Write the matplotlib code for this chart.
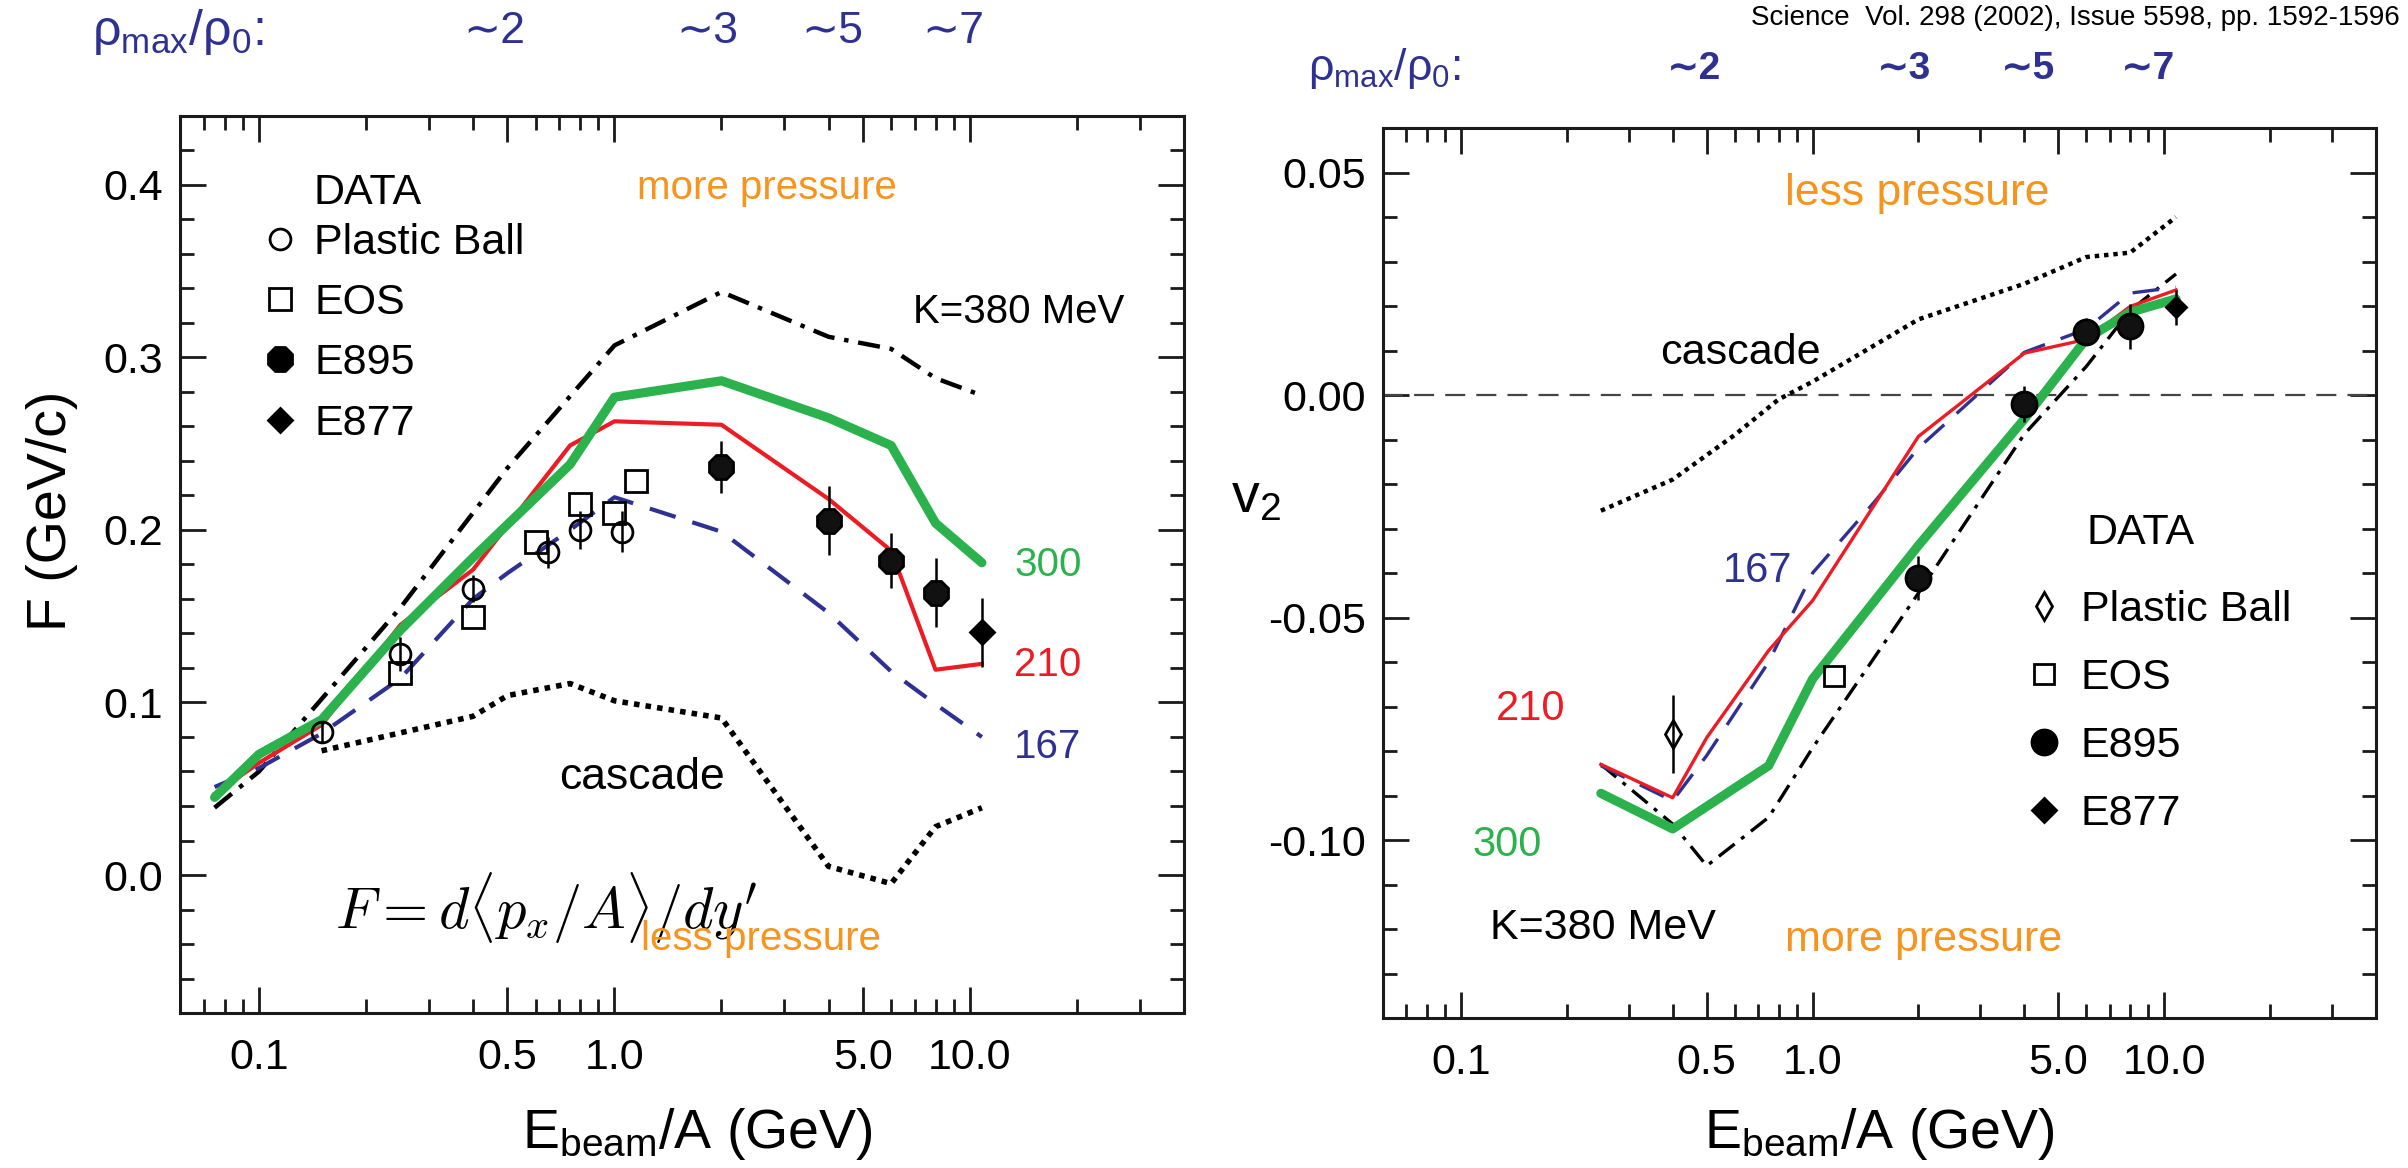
import numpy as np
import matplotlib
matplotlib.use("Agg")
import matplotlib.pyplot as plt
import matplotlib.transforms as mtransforms
from matplotlib.lines import Line2D
from matplotlib.ticker import FixedLocator, FixedFormatter, NullFormatter, MultipleLocator

plt.rcParams['font.family'] = ['Liberation Sans', 'DejaVu Sans']
plt.rcParams['mathtext.fontset'] = 'custom'
plt.rcParams['mathtext.rm'] = 'Liberation Sans'
plt.rcParams['mathtext.it'] = 'Liberation Sans:italic'
plt.rcParams['mathtext.bf'] = 'Liberation Sans:bold'

GREEN = '#2bb24c'
RED = '#ed1c24'
BLUE = '#2e3192'
ORANGE = '#f7941d'

## ---- left panel: directed flow F ----
e_f300 = [0.075, 0.1, 0.15, 0.25, 0.4, 0.75, 1.0, 2.0, 4.0, 6.0, 8.0, 10.8]
f_300 = [0.045, 0.07, 0.09, 0.142, 0.184, 0.238, 0.277, 0.2865, 0.265, 0.249, 0.204, 0.181]
e_f210 = [0.075, 0.1, 0.15, 0.25, 0.4, 0.75, 1.0, 2.0, 4.0, 6.0, 8.0, 10.8]
f_210 = [0.047, 0.065, 0.087, 0.145, 0.177, 0.249, 0.263, 0.261, 0.218, 0.188, 0.119, 0.1224]
e_f167 = [0.075, 0.1, 0.15, 0.25, 0.4, 0.5, 0.75, 1.0, 2.0, 4.0, 6.0, 8.0, 10.8]
f_167 = [0.051, 0.062, 0.082, 0.114, 0.16, 0.175, 0.2, 0.219, 0.199, 0.152, 0.118, 0.099, 0.08]
e_f380 = [0.075, 0.1, 0.15, 0.25, 0.5, 1.0, 2.0, 4.0, 6.0, 8.0, 10.8]
f_380 = [0.039, 0.06, 0.102, 0.155, 0.236, 0.307, 0.338, 0.312, 0.305, 0.288, 0.278]
e_fcasc = [0.15, 0.4, 0.5, 0.75, 1.0, 2.0, 4.0, 6.0, 8.0, 10.8]
f_casc = [0.072, 0.092, 0.104, 0.111, 0.101, 0.091, 0.005, -0.005, 0.028, 0.039]

# data points
e_pb = [0.15, 0.25, 0.4, 0.65, 0.8, 1.05]
f_pb = [0.083, 0.128, 0.166, 0.187, 0.2, 0.199]
f_pb_err = [0.006, 0.01, 0.008, 0.009, 0.011, 0.012]
e_eos = [0.25, 0.4, 0.6, 0.8, 1.0, 1.15]
f_eos = [0.117, 0.1496, 0.193, 0.215, 0.21, 0.2285]
e_e895 = [2.0, 4.0, 6.0, 8.0]
f_e895 = [0.2363, 0.2054, 0.1822, 0.1637]
f_e895_err = [0.015, 0.02, 0.016, 0.02]
e_e877 = [10.8]
f_e877 = [0.1407]
f_e877_err = [0.02]

## ---- right panel: elliptic flow v2 ----
e_v300 = [0.25, 0.4, 0.75, 1.0, 2.0, 4.0, 6.0, 8.0, 10.8]
v_300 = [-0.0895, -0.0975, -0.0833, -0.0638, -0.0338, -0.0054, 0.0126, 0.0186, 0.0216]
e_v210 = [0.25, 0.4, 0.5, 0.75, 1.0, 2.0, 4.0, 6.0, 8.0, 10.8]
v_210 = [-0.083, -0.0905, -0.077, -0.0574, -0.0462, -0.0093, 0.0094, 0.0125, 0.0199, 0.0236]
e_v167 = [0.25, 0.4, 0.5, 0.75, 1.0, 1.5, 2.0, 4.0, 6.0, 8.0, 10.8]
v_167 = [-0.0833, -0.0912, -0.081, -0.06, -0.040, -0.024, -0.0119, 0.0096, 0.0148, 0.0229, 0.0242]
e_v380 = [0.25, 0.4, 0.5, 0.75, 1.0, 2.0, 4.0, 6.0, 8.0, 10.8]
v_380 = [-0.083, -0.0964, -0.1058, -0.0949, -0.0793, -0.0445, -0.0088, 0.0064, 0.019, 0.0272]
e_vcasc = [0.25, 0.4, 0.6, 0.8, 1.0, 2.0, 4.0, 6.0, 8.0, 10.8]
v_casc = [-0.026, -0.019, -0.009, -0.001, 0.003, 0.017, 0.025, 0.031, 0.032, 0.040]

e_pb2 = [0.4]
v_pb2 = [-0.0762]
v_pb2_err = [0.0088]
e_eos2 = [1.15]
v_eos2 = [-0.0631]
e_e895_2 = [2.0, 4.0, 6.0, 8.0]
v_e895 = [-0.0411, -0.002, 0.0142, 0.0154]
v_e895_err = [0.005, 0.004, 0.003, 0.005]
e_e877_2 = [10.8]
v_e877 = [0.0197]
v_e877_err = [0.004]

# density labels along the top
rho_e = [0.46, 1.82, 4.1, 9.0]
rho_lab = ['∼2', '∼3', '∼5', '∼7']

xmaj = [0.1, 0.5, 1.0, 5.0, 10.0]
xmaj_lab = ['0.1', '0.5', '1.0', '5.0', '10.0']
xmin = [0.07, 0.08, 0.09, 0.2, 0.3, 0.4, 0.6, 0.7, 0.8, 0.9,
        2, 3, 4, 6, 7, 8, 9, 20, 30]

fig = plt.figure(figsize=(12.04, 5.84), dpi=200)
axL = fig.add_axes([0.0748, 0.1327, 0.4169, 0.768])
axR = fig.add_axes([0.5743, 0.1284, 0.4124, 0.762])


def style_axes(ax):
    ax.set_xscale('log')
    ax.set_xlim(0.06, 40)
    ax.xaxis.set_major_locator(FixedLocator(xmaj))
    ax.xaxis.set_major_formatter(FixedFormatter(xmaj_lab))
    ax.xaxis.set_minor_locator(FixedLocator(xmin))
    ax.xaxis.set_minor_formatter(NullFormatter())
    ax.tick_params(which='both', direction='in', top=True, right=True, width=1.0,
                   labelsize=15.5, color='#1a1a1a')
    ax.tick_params(which='major', length=9.5)
    ax.tick_params(which='minor', length=5)
    ax.tick_params(axis='x', pad=9)
    ax.tick_params(axis='y', pad=6)
    for s in ax.spines.values():
        s.set_linewidth(1.1)
        s.set_color('#1a1a1a')
    ax.set_xlabel(r'E$_{\mathrm{beam}}$/A (GeV)', fontsize=20)


# ---------------- left ----------------
ax = axL
style_axes(ax)
ax.set_ylim(-0.08, 0.44)
ax.yaxis.set_major_locator(FixedLocator([0.0, 0.1, 0.2, 0.3, 0.4]))
ax.yaxis.set_major_formatter(FixedFormatter(['0.0', '0.1', '0.2', '0.3', '0.4']))
ax.yaxis.set_minor_locator(MultipleLocator(0.02))

ax.plot(e_f380, f_380, color='black', lw=1.6, dashes=(5, 2.2, 1.0, 2.2))
ax.plot(e_f167, f_167, color=BLUE, lw=1.5, dashes=(6.5, 4.2))
ax.plot(e_f210, f_210, color=RED, lw=1.5)
ax.plot(e_f300, f_300, color=GREEN, lw=3.3, solid_capstyle='round')
ax.plot(e_fcasc, f_casc, color='black', lw=2.0, dashes=(1.0, 1.1))

ax.errorbar(e_pb, f_pb, yerr=f_pb_err, fmt='o', ms=7.5, mfc='none', mec='black',
            mew=1.0, ecolor='black', elinewidth=0.9, capsize=0)
ax.plot(e_eos, f_eos, 's', ms=8, mfc='none', mec='black', mew=1.0)
ax.errorbar(e_e895, f_e895, yerr=f_e895_err, fmt='8', ms=9, color='black',
            mfc='#111111', elinewidth=0.9, capsize=0)
ax.errorbar(e_e877, f_e877, yerr=f_e877_err, fmt='D', ms=6, color='black',
            elinewidth=0.9, capsize=0)

ax.set_ylabel('F (GeV/c)', fontsize=20)
ax.yaxis.set_label_coords(-0.102, 0.56)
ax.xaxis.set_label_coords(0.515, -0.104)

handlesL = [
    Line2D([], [], ls='none', marker='o', ms=7.5, mfc='none', mec='black', mew=1.0),
    Line2D([], [], ls='none', marker='s', ms=8, mfc='none', mec='black', mew=1.0),
    Line2D([], [], ls='none', marker='8', ms=9, color='black'),
    Line2D([], [], ls='none', marker='D', ms=6, color='black'),
]
ax.legend(handlesL, ['Plastic Ball', 'EOS', 'E895', 'E877'], loc='upper left',
          bbox_to_anchor=(0.065, 0.90), frameon=False, fontsize=15.5,
          handlelength=0.8, handletextpad=0.4, labelspacing=0.47, borderaxespad=0)
ax.text(0.133, 0.914, 'DATA', transform=ax.transAxes, fontsize=15.5, va='center')
ax.text(0.455, 0.92, 'more pressure', transform=ax.transAxes, fontsize=14.5,
        color=ORANGE, va='center')
ax.text(0.730, 0.781, 'K=380 MeV', transform=ax.transAxes, fontsize=14.5, va='center')
ax.text(0.831, 0.499, '300', transform=ax.transAxes, fontsize=14.5, color=GREEN, va='center')
ax.text(0.831, 0.388, '210', transform=ax.transAxes, fontsize=14.5, color=RED, va='center')
ax.text(0.831, 0.297, '167', transform=ax.transAxes, fontsize=14.5, color=BLUE, va='center')
ax.text(0.378, 0.262, 'cascade', transform=ax.transAxes, fontsize=16, va='center')
ax.text(0.154, 0.117, r"$F = d\langle p_x/A\rangle/dy'$", transform=ax.transAxes,
        fontsize=21, va='center', math_fontfamily='cm')
ax.text(0.459, 0.0825, 'less pressure', transform=ax.transAxes, fontsize=14.5,
        color=ORANGE, va='center')

# ---------------- right ----------------
ax = axR
style_axes(ax)
ax.set_ylim(-0.14, 0.06)
ax.yaxis.set_major_locator(FixedLocator([-0.10, -0.05, 0.0, 0.05]))
ax.yaxis.set_major_formatter(FixedFormatter(['-0.10', '-0.05', '0.00', '0.05']))
ax.yaxis.set_minor_locator(MultipleLocator(0.01))

ax.axhline(0.0, color='#444444', lw=0.8, dashes=(9, 5))
ax.plot(e_v380, v_380, color='black', lw=1.2, dashes=(6, 2.5, 1.2, 2.5))
ax.plot(e_v167, v_167, color=BLUE, lw=1.2, dashes=(8, 5))
ax.plot(e_v210, v_210, color=RED, lw=1.2)
ax.plot(e_v300, v_300, color=GREEN, lw=3.3, solid_capstyle='round')
ax.plot(e_vcasc, v_casc, color='black', lw=1.6, dashes=(1.0, 1.1))

ax.errorbar(e_pb2, v_pb2, yerr=v_pb2_err, fmt='d', ms=7, mfc='none', mec='black',
            mew=1.0, ecolor='black', elinewidth=0.9, capsize=0)
ax.plot(e_eos2, v_eos2, 's', ms=7.5, mfc='none', mec='black', mew=1.0)
ax.errorbar(e_e895_2, v_e895, yerr=v_e895_err, fmt='o', ms=9, color='black',
            mfc='#111111', elinewidth=0.9, capsize=0)
ax.errorbar(e_e877_2, v_e877, yerr=v_e877_err, fmt='D', ms=5, color='black',
            elinewidth=0.9, capsize=0)

ax.set_ylabel(r'v$_2$', fontsize=20, rotation=0)
ax.yaxis.set_label_coords(-0.128, 0.555)
ax.xaxis.set_label_coords(0.50, -0.099)

handlesR = [
    Line2D([], [], ls='none', marker='d', ms=7, mfc='none', mec='black', mew=1.0),
    Line2D([], [], ls='none', marker='s', ms=7.5, mfc='none', mec='black', mew=1.0),
    Line2D([], [], ls='none', marker='o', ms=9, color='black'),
    Line2D([], [], ls='none', marker='D', ms=6, color='black'),
]
ax.legend(handlesR, ['Plastic Ball', 'EOS', 'E895', 'E877'], loc='upper left',
          bbox_to_anchor=(0.631, 0.500), frameon=False, fontsize=15.5,
          handlelength=0.8, handletextpad=0.45, labelspacing=0.65, borderaxespad=0)
ax.text(0.708, 0.545, 'DATA', transform=ax.transAxes, fontsize=15.5, va='center')
ax.text(0.405, 0.926, 'less pressure', transform=ax.transAxes, fontsize=16,
        color=ORANGE, va='center')
ax.text(0.279, 0.747, 'cascade', transform=ax.transAxes, fontsize=15.5, va='center')
ax.text(0.342, 0.502, '167', transform=ax.transAxes, fontsize=15, color=BLUE, va='center')
ax.text(0.114, 0.347, '210', transform=ax.transAxes, fontsize=15, color=RED, va='center')
ax.text(0.090, 0.194, '300', transform=ax.transAxes, fontsize=15, color=GREEN, va='center')
ax.text(0.108, 0.101, 'K=380 MeV', transform=ax.transAxes, fontsize=15.5, va='center')
ax.text(0.405, 0.088, 'more pressure', transform=ax.transAxes, fontsize=15.5,
        color=ORANGE, va='center')

# density ratio labels above each panel
for a, yfig, lx, fs, wt in [(axL, 0.973, 0.038, 18, 'normal'),
                            (axR, 0.941, 0.543, 16, 'bold')]:
    tr = mtransforms.blended_transform_factory(a.transData, fig.transFigure)
    fig.text(lx, yfig, r'ρ$_{\mathrm{max}}$/ρ$_{\mathrm{0}}$:', fontsize=fs,
             color=BLUE, va='center')
    for e, lab in zip(rho_e, rho_lab):
        a.text(e, yfig, lab, transform=tr, fontsize=fs - 2, color=BLUE, ha='center',
               va='center', fontweight=wt)

fig.text(0.9967, 0.985, 'Science  Vol. 298 (2002), Issue 5598, pp. 1592-1596',
         fontsize=10, ha='right', va='center')

fig.savefig('out.png', dpi=200)
